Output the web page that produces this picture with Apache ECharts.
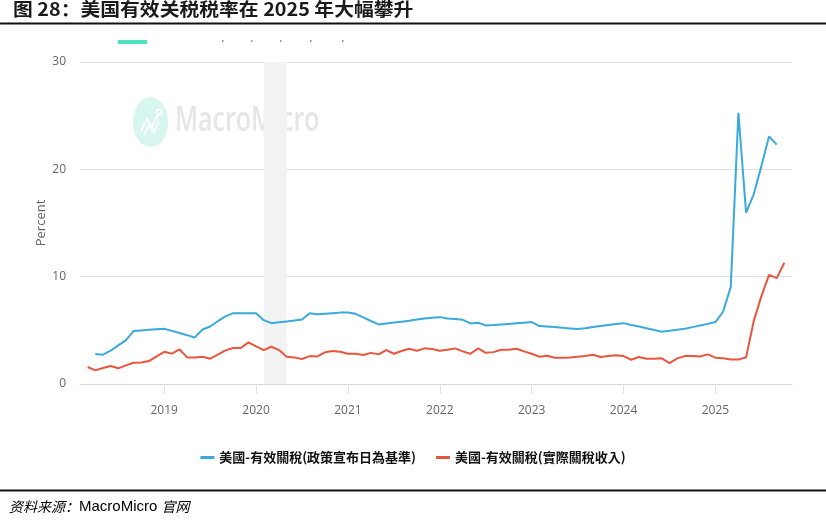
<!DOCTYPE html>
<html>
<head>
<meta charset="utf-8">
<script src="https://cdn.jsdelivr.net/npm/echarts@6/dist/echarts.min.js"></script>
<style>
html,body{margin:0;padding:0;background:#fff;}
#c{width:826px;height:522px;}
</style>
</head>
<body>
<div id="c"></div>
<script>
// ---- data ----
const seriesNames = ['美國-有效關稅(政策宣布日為基準)', '美國-有效關稅(實際關稅收入)'];
const axisStart = [2018, 2];   // first month on the x axis
const axisMonthCount = 94;     // 2018-02 .. 2025-11
const blueStart = [2018, 4];   // first month of policy-based series
const blueValues = [
  2.79, 2.73, 3.10, 3.60, 4.09, 4.93, 4.99, 5.05, 5.10,
  5.15, 4.95, 4.75, 4.55, 4.34, 5.08, 5.36, 5.85, 6.30, 6.60, 6.60, 6.60,
  6.60, 5.95, 5.67, 5.75, 5.83, 5.91, 6.00, 6.60, 6.50, 6.55, 6.60, 6.65,
  6.67, 6.54, 6.20, 5.87, 5.55, 5.64, 5.72, 5.81, 5.90, 6.00, 6.10, 6.17,
  6.23, 6.10, 6.05, 5.98, 5.64, 5.70, 5.46, 5.50, 5.55, 5.60, 5.65, 5.70,
  5.77, 5.40, 5.35, 5.30, 5.24, 5.18, 5.12, 5.20, 5.30, 5.40, 5.50, 5.60,
  5.67, 5.50, 5.35, 5.20, 5.03, 4.87, 4.97, 5.06, 5.15, 5.30, 5.45, 5.60,
  5.77, 6.73, 9.05, 25.27, 15.97, 17.67, 20.30, 23.07, 22.30
];
const redStart = [2018, 3];    // first month of revenue-based series
const redValues = [
  1.58, 1.27, 1.49, 1.67, 1.46, 1.74, 1.98, 2.00, 2.14, 2.57,
  3.00, 2.83, 3.22, 2.48, 2.48, 2.54, 2.36, 2.73, 3.13, 3.35, 3.35, 3.88,
  3.50, 3.16, 3.47, 3.16, 2.54, 2.48, 2.33, 2.60, 2.57, 2.95, 3.07, 3.00,
  2.82, 2.82, 2.70, 2.90, 2.76, 3.16, 2.82, 3.07, 3.29, 3.10, 3.32, 3.26,
  3.10, 3.19, 3.32, 3.04, 2.82, 3.32, 2.91, 2.97, 3.19, 3.19, 3.29, 3.04,
  2.82, 2.54, 2.63, 2.45, 2.45, 2.48, 2.54, 2.60, 2.73, 2.51, 2.60, 2.67,
  2.60, 2.26, 2.51, 2.36, 2.36, 2.39, 1.95, 2.39, 2.60, 2.60, 2.57, 2.76,
  2.45, 2.39, 2.29, 2.29, 2.48, 5.86, 8.19, 10.17, 9.86, 11.29
];
const recession = ['2020-02', '2020-05'];

// ---- build ----
function monthSeq(start, n) {
  const out = [];
  let y = start[0], m = start[1];
  for (let i = 0; i < n; i++) {
    out.push(y + '-' + String(m).padStart(2, '0'));
    m++; if (m > 12) { m = 1; y++; }
  }
  return out;
}
const months = monthSeq(axisStart, axisMonthCount);
const blueDates = monthSeq(blueStart, blueValues.length);
const redDates = monthSeq(redStart, redValues.length);
const blueData = blueValues.map((v, i) => [blueDates[i], v]);
const redData = redValues.map((v, i) => [redDates[i], v]);
const isJan = (idx, val) => String(val).slice(5) === '01';

const chart = echarts.init(document.getElementById('c'), null, {renderer: 'canvas'});
const axisFont = '"Open Sans", "Noto Sans", sans-serif';
const specks = [222, 251, 280, 310, 342].map(x => (
  {type: 'rect', left: x, top: 40, shape: {width: 1.5, height: 2}, style: {fill: '#9a9a9a'}}
));
chart.setOption({
  animation: false,
  backgroundColor: '#fff',
  grid: {left: 80, right: 34, top: 62, bottom: 138, containLabel: false},
  xAxis: {
    type: 'category', data: months, boundaryGap: false,
    axisLine: {show: true, lineStyle: {color: '#d9d9d9', width: 1}},
    axisTick: {show: true, interval: isJan, length: 10, lineStyle: {color: '#e3e3e3'}},
    axisLabel: {interval: isJan, formatter: v => v.slice(0, 4),
      color: '#666', fontSize: 12, fontFamily: axisFont, margin: 21},
    splitLine: {show: false}
  },
  yAxis: {
    type: 'value', min: 0, max: 30, interval: 10,
    name: 'Percent', nameLocation: 'middle', nameGap: 32, nameMoveOverlap: false,
    nameTextStyle: {color: '#666', fontSize: 13, fontFamily: axisFont},
    axisLine: {show: false}, axisTick: {show: false},
    axisLabel: {color: '#666', fontSize: 12, fontFamily: axisFont, margin: 14},
    splitLine: {lineStyle: {color: '#e0e0e0', width: 1}}
  },
  legend: {
    bottom: 53, left: 'center',
    icon: 'rect', itemWidth: 14, itemHeight: 3, itemGap: 20,
    textStyle: {color: '#111', fontSize: 13, fontWeight: 'bold', fontFamily: '"Noto Sans CJK TC", sans-serif'},
    data: seriesNames
  },
  series: [
    {
      name: seriesNames[0], type: 'line', data: blueData, showSymbol: false, symbol: 'none',
      lineStyle: {color: '#3aa9dc', width: 2}, itemStyle: {color: '#3aa9dc'},
      markArea: {silent: true, itemStyle: {color: '#f2f2f2'}, data: [[{xAxis: recession[0]}, {xAxis: recession[1]}]]},
      z: 3
    },
    {
      name: seriesNames[1], type: 'line', data: redData, showSymbol: false, symbol: 'none',
      lineStyle: {color: '#e9553d', width: 2}, itemStyle: {color: '#e9553d'}, z: 2
    }
  ],
  graphic: [
    {type: 'text', left: 13, top: 0, scaleX: 1.1, style: {text: '图 28：美国有效关税税率在 2025 年大幅攀升',
      font: 'bold 18px "Noto Sans CJK SC", sans-serif', fill: '#1a1a1a'}},
    {type: 'rect', left: 0, top: 22.5, shape: {width: 826, height: 2}, style: {fill: '#111'}},
    {type: 'rect', left: 118, top: 40, shape: {width: 29, height: 4}, style: {fill: '#4fe3c3'}},
    ...specks,
    {type: 'group', left: 133, top: 97, z: 0, children: [
      {type: 'ellipse', shape: {cx: 17.5, cy: 25, rx: 17.5, ry: 25}, style: {fill: '#d8f6f0'}},
      {type: 'polyline', shape: {points: [[8, 34], [14, 22], [19, 30], [25, 17]]}, style: {stroke: '#fff', lineWidth: 2, fill: null}},
      {type: 'polyline', shape: {points: [[11, 38], [16, 28], [21, 35], [26, 24]]}, style: {stroke: '#fff', lineWidth: 2, fill: null}},
      {type: 'circle', shape: {cx: 26, cy: 15, r: 2.5}, style: {stroke: '#fff', lineWidth: 1.5, fill: null}}
    ]},
    {type: 'text', left: 175, top: 104, scaleY: 1.4, z: 0, style: {text: 'MacroMicro',
      font: '600 25px "Open Sans", sans-serif', fill: '#e6e6e6'}},
    {type: 'rect', left: 0, top: 489.5, shape: {width: 826, height: 2}, style: {fill: '#111'}},
    {type: 'text', left: 9, top: 499, style: {
      text: '{a|资料来源：}{b|MacroMicro }{a|官网}',
      rich: {
        a: {fontSize: 14, fontStyle: 'italic', fontFamily: '"Noto Sans CJK SC", serif', color: '#111'},
        b: {fontSize: 15, fontFamily: '"Liberation Sans", Arial, sans-serif', color: '#111'}
      }
    }}
  ]
});
</script>
</body>
</html>
